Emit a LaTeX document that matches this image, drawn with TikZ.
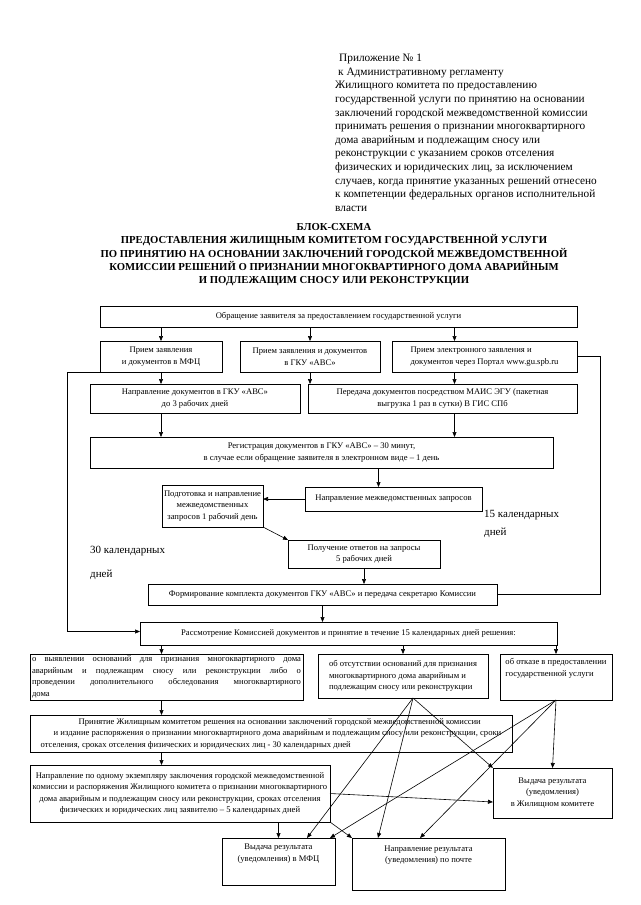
\documentclass[tikz,border=0pt]{standalone}
\usepackage{fontspec}
\setmainfont{Liberation Serif}
\usetikzlibrary{arrows.meta}

\begin{document}
\begin{tikzpicture}[x=1pt,y=-1pt,
	>={Triangle[length=5pt,width=4pt]},
	blok/.style={draw,line width=0.7pt,anchor=north west,inner sep=2pt,outer sep=0pt,align=center,font=\fontsize{8.6}{11.5}\selectfont},
	pfeil/.style={->,line width=0.6pt},
	frist/.style={anchor=north west,align=left,inner sep=0pt,font=\fontsize{11}{13}\selectfont}]
	\useasboundingbox (0,0) rectangle (640,905);
	
	%Kopf
	\node[anchor=north west,align=left,inner sep=0pt,font=\fontsize{11.3}{13.6}\selectfont] (kopf) at (335,54) {\hspace*{4pt}Приложение № 1\\\hspace*{3pt}к Административному регламенту\\Жилищного комитета по предоставлению\\государственной услуги по принятию на основании\\заключений городской межведомственной комиссии\\принимать решения о признании многоквартирного\\дома аварийным и подлежащим сносу или\\реконструкции с указанием сроков отселения\\физических и юридических лиц, за исключением\\случаев, когда принятие указанных решений отнесено\\к компетенции федеральных органов исполнительной\\власти};
	\node[anchor=north,align=center,inner sep=0pt,font=\bfseries\fontsize{10.7}{13.4}\selectfont] (titel) at (334,223) {БЛОК-СХЕМА\\ПРЕДОСТАВЛЕНИЯ  ЖИЛИЩНЫМ КОМИТЕТОМ ГОСУДАРСТВЕННОЙ УСЛУГИ\\ПО ПРИНЯТИЮ НА ОСНОВАНИИ ЗАКЛЮЧЕНИЙ ГОРОДСКОЙ МЕЖВЕДОМСТВЕННОЙ\\КОМИССИИ РЕШЕНИЙ О ПРИЗНАНИИ МНОГОКВАРТИРНОГО ДОМА АВАРИЙНЫМ\\И ПОДЛЕЖАЩИМ СНОСУ ИЛИ РЕКОНСТРУКЦИИ};
	
	%Eingang
	\node[blok,minimum width=477pt,minimum height=21pt] (obr) at (100,306) {Обращение заявителя за предоставлением государственной услуги};
	\node[blok,minimum width=122pt,minimum height=31pt] (mfc) at (100,341) {Прием заявления\\и документов в МФЦ};
	\node[blok,minimum width=140pt,minimum height=31pt] (gku) at (240,341) {Прием заявления и документов\\в ГКУ «АВС»};
	\node[blok,minimum width=185pt,minimum height=31pt,align=left] (portal) at (392,341) {Прием электронного заявления и\\документов через Портал www.gu.spb.ru};
	\draw[pfeil] (mfc.north |- obr.south) -- (mfc.north);
	\draw[pfeil] (gku.north |- obr.south) -- (gku.north);
	\draw[pfeil] ([xshift=-30pt]portal.north |- obr.south) -- ([xshift=-30pt]portal.north);
	
	%Weiterleitung
	\node[blok,minimum width=210pt,minimum height=29pt] (napr) at (90,384) {Направление документов в ГКУ «АВС»\\до 3 рабочих дней};
	\node[blok,minimum width=269pt,minimum height=29pt] (pered) at (308,384) {Передача документов посредством МАИС ЭГУ (пакетная\\выгрузка 1 раз в сутки) В ГИС СПб};
	\draw[pfeil] (mfc.south) -- (mfc.south |- napr.north);
	\draw[pfeil] (gku.south) -- (gku.south |- pered.north);
	\draw[pfeil] ([xshift=-30pt]portal.south) -- ([xshift=-30pt]portal.south |- pered.north);
	
	\node[blok,minimum width=463pt,minimum height=31pt] (reg) at (90,437) {Регистрация документов в ГКУ «АВС» – 30 минут,\\в случае если обращение заявителя в электронном виде – 1 день};
	\draw[pfeil] (mfc.south |- napr.south) -- (mfc.south |- reg.north);
	\draw[pfeil] ([xshift=-30pt]portal.south |- pered.south) -- ([xshift=-30pt]portal.south |- reg.north);
	
	%Anfragen
	\node[blok,minimum width=177pt,minimum height=24pt] (mvz) at (305,487) {Направление межведомственных запросов};
	\node[blok,minimum width=100pt,minimum height=42pt] (podg) at (162,485) {Подготовка и направление\\межведомственных\\запросов 1 рабочий день};
	\node[blok,minimum width=152pt,minimum height=28pt] (poluch) at (288,540) {Получение ответов на запросы\\5 рабочих дней};
	\draw[pfeil] ([xshift=-15pt]reg.south -| mvz.north) -- ([xshift=-15pt]mvz.north);
	\draw[pfeil] (mvz.west) -- (mvz.west -| podg.east);
	\draw[pfeil] (podg.south east) -- (poluch.north west);
	
	\node[frist] (f15) at (484,510) {15 календарных\\[5pt]дней};
	\node[frist] (f30) at (90,546) {30 календарных\\[11pt]дней};
	
	\node[blok,minimum width=349pt,minimum height=21pt] (formir) at (148,584) {Формирование комплекта документов ГКУ «АВС» и передача секретарю Комиссии};
	\draw[pfeil] (poluch.south) -- (poluch.south |- formir.north);
	\draw[line width=0.6pt] (portal.east) -- ++(23,0) |- (formir.east);
	
	%Komission
	\node[blok,minimum width=417pt,minimum height=23pt] (rassm) at (140,622) {Рассмотрение Комиссией документов и принятие в течение 15 календарных дней решения:};
	\draw[pfeil] (formir.south) -- (formir.south |- rassm.north);
	\draw[pfeil] (mfc.south west) -- ++(-33,0) |- ([yshift=2pt]rassm.west);
	
	\node[blok,text width=269pt,minimum height=46pt,align=justify] (d1) at (30,654) {о выявлении оснований для признания многоквартирного дома\linebreak аварийным и подлежащим сносу или реконструкции либо о\linebreak проведении дополнительного обследования многоквартирного\linebreak дома};
	\node[blok,minimum width=170pt,minimum height=44pt,align=left] (d2) at (318,654) {об отсутствии оснований для признания\\многоквартирного дома аварийным и\\подлежащим сносу или реконструкции};
	\node[blok,minimum width=112pt,minimum height=46pt,align=left] (d3) at (500,654) {об отказе в предоставлении\\государственной услуги\\[8pt]};
	\draw[pfeil] ([xshift=-5pt]d1.north |- rassm.south) -- ([xshift=-5pt]d1.north);
	\draw[pfeil] (d2.north |- rassm.south) -- (d2.north);
	\draw[pfeil] (d3.north |- rassm.south) -- (d3.north);
	
	%Ergebnis
	\node[blok,minimum width=482pt,minimum height=37pt,align=left] (prin) at (30,715) {\hspace*{38pt}Принятие Жилищным комитетом решения на основании заключений городской  межведомственной комиссии\\\hspace*{13pt}и издание распоряжения о признании многоквартирного дома аварийным и подлежащим сносу  или реконструкции, сроки\\отселения, сроках отселения физических и юридических лиц - 30  календарных дней};
	\node[blok,minimum width=300pt,minimum height=57pt] (napodn) at (30,765) {Направление по одному экземпляру заключения городской межведомственной\\комиссии и распоряжения Жилищного комитета о признании многоквартирного\\дома аварийным и подлежащим сносу или реконструкции, сроках отселения\\физических и  юридических лиц заявителю – 5 календарных дней};
	\draw[pfeil] ([xshift=-5pt]d1.south) -- ([xshift=-5pt]d1.south |- prin.north);
	\draw[pfeil] ([xshift=-5pt]d1.south |- prin.south) -- ([xshift=-5pt]d1.south |- napodn.north);
	
	\node[blok,minimum width=113pt,minimum height=47pt] (vydmfc) at (222,838) {Выдача результата\\(уведомления) в МФЦ\\[6pt]};
	\node[blok,minimum width=153pt,minimum height=52pt] (nappost) at (352,838) {Направление результата\\(уведомления) по почте\\[8pt]};
	\node[blok,minimum width=119pt,minimum height=50pt] (vydzhk) at (493,768) {Выдача результата\\(уведомления)\\в Жилищном комитете};
	
	\draw[pfeil] (vydmfc.north |- napodn.south) -- (vydmfc.north);
	\draw[pfeil] (napodn.south east) -- (nappost.north west);
	\draw[pfeil] (napodn.east) -- ([yshift=-9pt]vydzhk.west);
	\draw[pfeil] ([xshift=10pt]d2.south) -- ([xshift=-28pt]vydmfc.north east);
	\draw[pfeil] ([xshift=10pt]d2.south) -- ([xshift=26pt]nappost.north west);
	\draw[pfeil] ([xshift=10pt]d2.south) -- (vydzhk.north west);
	\draw[pfeil] (d3.south) -- ([xshift=-5pt]vydmfc.north east);
	\draw[pfeil] (d3.south) -- ([xshift=68pt]nappost.north west);
	\draw[pfeil] (d3.south) -- (vydzhk.north);
\end{tikzpicture}
\end{document}
